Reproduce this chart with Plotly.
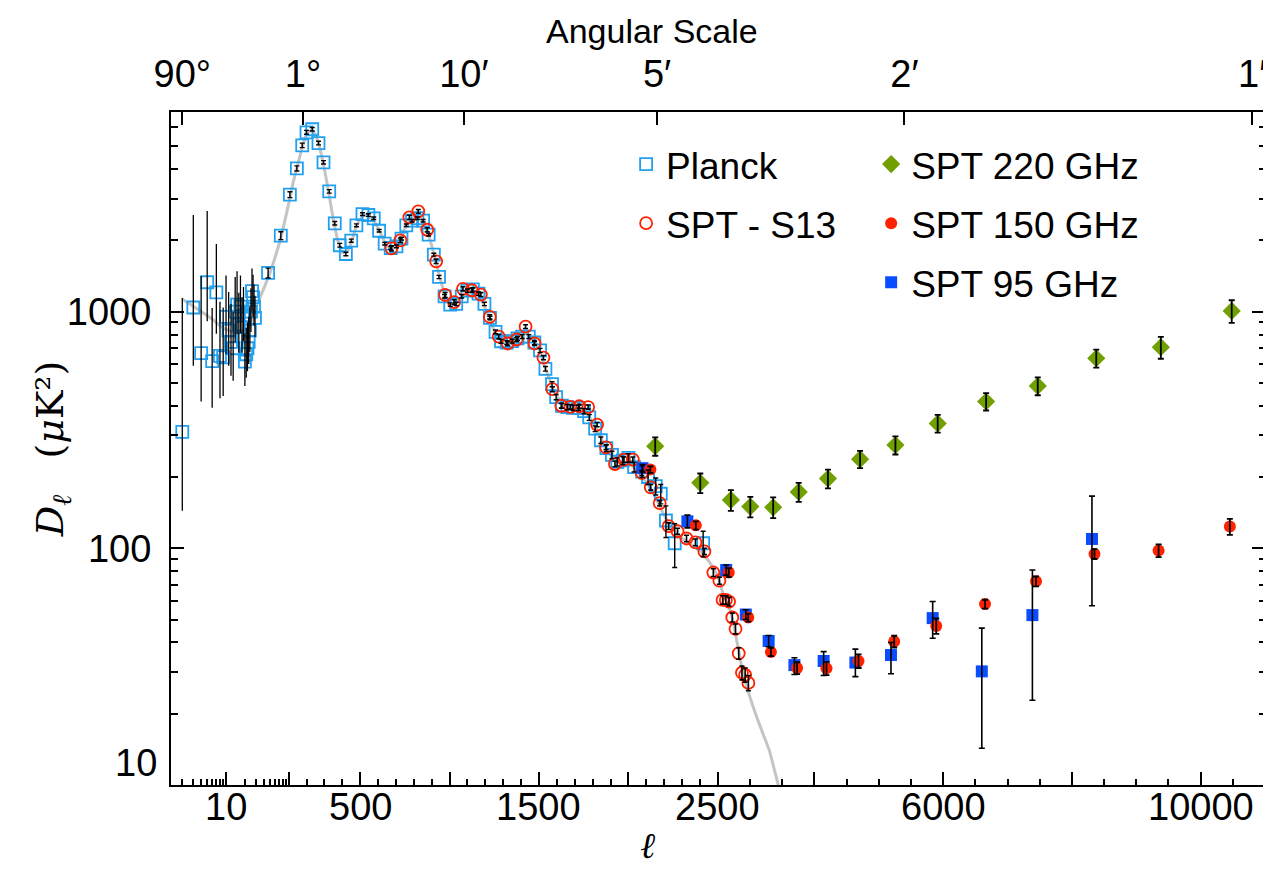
import numpy as np
import plotly.graph_objects as go

# ---------------- data ----------------
# Planck low-ell (unbinned)
lowl_ell = [2, 3, 4, 5, 6, 7, 8, 9, 10, 11, 12, 13, 14, 15, 16, 17, 18, 19, 20,
            21, 22, 23, 24, 25, 26, 27, 28, 29]
lowl_D = [310, 1040, 667, 1330, 618, 1205, 650, 640, 950, 830, 745, 700, 1000, 1070,
          880, 1050, 860, 960, 615, 660, 700, 745, 830, 1000, 1220, 1150, 1050, 940]
lowl_err_hi = [830, 1520, 745, 1330, 417, 725, 450, 400, 470, 380, 330, 300, 400, 410,
               320, 370, 290, 310, 190, 195, 200, 205, 220, 255, 300, 280, 250, 225]
lowl_err_lo = [166, 450, 250, 420, 226, 400, 220, 200, 290, 240, 210, 190, 260, 270,
               210, 240, 190, 210, 130, 135, 140, 145, 155, 180, 215, 200, 180, 160]

# Planck binned
planck_ell = [47, 75, 107, 146, 176, 200, 232, 267, 295, 327, 358, 386, 420, 450, 479,
              513, 546, 576, 606, 637, 671, 703, 731, 758, 790, 820, 852, 883, 912, 941,
              972, 1004, 1037, 1068, 1100, 1130, 1162, 1195, 1226, 1257, 1288, 1320, 1350,
              1380, 1406, 1443, 1474, 1506, 1536, 1573, 1596, 1628, 1659, 1690, 1721, 1752,
              1781, 1814, 1846, 1877, 1908, 1938, 1969, 2000, 2032, 2077, 2110, 2153, 2181,
              2210, 2259, 2418]
planck_D = [1456, 2094, 3119, 4026, 5035, 5717, 5890, 5150, 4270, 3220, 2360, 1906, 1750,
            1992, 2314, 2580, 2558, 2477, 2195, 1935, 1856, 1886, 2033, 2314, 2420, 2480,
            2420, 2112, 1739, 1400, 1160, 1070, 1077, 1160, 1225, 1240, 1190, 1077, 940,
            821, 749, 740, 750, 770, 784, 784, 740, 685, 573, 494, 435, 400, 395, 392, 392,
            380, 357, 320, 286, 265, 248, 232, 235, 241, 220, 211, 200, 183, 170, 131, 105,
            105]
planck_err = [70, 80, 90, 100, 110, 110, 100, 90, 70, 55, 40, 35, 30, 30, 32, 35, 33, 30,
              28, 25, 25, 25, 26, 28, 30, 30, 30, 28, 25, 22, 20, 18, 18, 19, 20, 20, 20,
              18, 16, 15, 14, 14, 14, 14, 15, 15, 15, 14, 13, 12, 11, 10, 10, 10, 10, 10,
              10, 9, 9, 9, 9, 9, 9, 10, 10, 12, 14, 15, 16, 20, 22, 13]

# SPT - S13 (Story et al.)
s13_ell = [675, 725, 775, 825, 875, 925, 975, 1025, 1075, 1125, 1175, 1225, 1275, 1325,
           1375, 1425, 1475, 1525, 1575, 1625, 1675, 1725, 1775, 1825, 1875, 1925, 1975,
           2025, 2075, 2125, 2175, 2225, 2275, 2325, 2375, 2425, 2475, 2525, 2575, 2625,
           2675, 2725, 2775, 2825, 2875, 2925, 2975]
s13_D = [1850, 2000, 2500, 2650, 2216, 1630, 1175, 1097, 1248, 1230, 1180, 950, 784, 733,
         762, 864, 733, 639, 470, 400, 396, 398, 395, 333, 267, 227, 237, 237, 208, 181,
         155, 124, 118, 110, 106, 97, 79, 73, 60.5, 60.5, 59.5, 51, 45.7, 36, 29.8, 29.2, 27]
s13_err = [45, 45, 50, 50, 45, 35, 28, 25, 25, 25, 22, 20, 17, 15, 15, 16, 14, 13, 11, 9,
           9, 8, 8, 7, 6, 6, 6, 6, 5, 5, 4, 4, 3.5, 3.5, 3.5, 3, 3, 2.5, 2.5, 2.5, 2.5,
           2.2, 2.2, 2, 2, 2, 2]

# SPT 220 GHz
spt220_ell = [2150, 2402, 2703, 3005, 3360, 3757, 4211, 4710, 5259, 5916, 6668, 7470,
              8379, 9382, 10483]
spt220_D = [270, 189, 160, 150, 149, 173, 197, 238, 273, 337, 417, 485, 635, 707, 1006]
spt220_err = [24, 18, 16, 15, 15, 16, 18, 20, 24, 29, 35, 42, 55, 75, 110]

# SPT 150 GHz
spt150_ell = [2123, 2377, 2670, 2973, 3325, 3732, 4188, 4686, 5240, 5893, 6651, 7443,
              8351, 9347, 10454]
spt150_D = [215, 125, 79, 51, 36.5, 31.2, 31.1, 33.4, 40.4, 47.0, 58.1, 72.5, 94.6,
            97.8, 123.5]
spt150_err = [7, 5, 3.5, 2, 1.5, 1.8, 2, 2.2, 2.3, 3.5, 2.5, 3.5, 4.5, 6, 9.5]

# SPT 95 GHz
spt95_ell = [2079, 2330, 2630, 2935, 3290, 3690, 4144, 4637, 5190, 5838, 6601, 7387, 8312]
spt95_D = [218, 130, 81, 52.5, 40.6, 32.1, 33.4, 32.9, 35.4, 50.7, 30.2, 52.2, 109.5]
spt95_err_hi = [8, 8, 4, 2.5, 2.2, 2.4, 3.2, 4.6, 4.6, 8.9, 15.8, 28.8, 56.5]
spt95_err_lo = [8, 8, 4, 2.5, 2.2, 2.8, 4.4, 4.2, 5.9, 9.0, 15.9, 29.4, 52.3]

# best-fit model curve (grey)
theory_ell = [2, 4, 6, 8, 10, 15, 20, 25, 30, 40, 50, 75, 100, 125, 150, 175, 200, 220,
              240, 260, 280, 300, 325, 350, 375, 400, 425, 450, 475, 500, 525, 550, 575,
              600, 625, 650, 675, 700, 725, 750, 775, 800, 825, 850, 875, 900, 925, 950,
              975, 1000, 1025, 1050, 1075, 1100, 1125, 1150, 1175, 1200, 1225, 1250, 1275,
              1300, 1325, 1350, 1375, 1400, 1425, 1450, 1475, 1500, 1525, 1550, 1575, 1600,
              1625, 1650, 1675, 1700, 1725, 1750, 1775, 1800, 1825, 1850, 1875, 1900, 1925,
              1950, 1975, 2000, 2025, 2050, 2100, 2150, 2200, 2250, 2300, 2350, 2400, 2450,
              2500, 2600, 2700, 2800, 2900, 3000, 3100, 3200, 3300, 3400, 3460]
theory_D = [1130, 1000, 930, 870, 840, 810, 830, 900, 1040, 1250, 1450, 2050, 2850, 3500,
            4150, 4900, 5600, 5800, 5750, 5350, 4700, 4000, 3150, 2450, 2000, 1780, 1780,
            1950, 2250, 2450, 2550, 2530, 2420, 2250, 2050, 1900, 1850, 1900, 2050, 2250,
            2420, 2500, 2500, 2400, 2200, 1900, 1600, 1350, 1180, 1090, 1080, 1120, 1180,
            1220, 1230, 1200, 1130, 1030, 920, 830, 770, 740, 735, 750, 780, 800, 805, 790,
            750, 690, 610, 540, 480, 440, 415, 400, 395, 393, 390, 380, 365, 340, 315, 290,
            265, 248, 238, 232, 230, 228, 222, 212, 190, 165, 138, 120, 110, 104, 98, 88,
            76, 62, 54, 40, 29, 23.5, 19.5, 16.5, 14, 11, 9.5]

# axis ticks
bottom_major_ell = [10, 100, 500, 1000, 1500, 2000, 2500, 4000, 6000, 8000, 10000]
bottom_label_ell = [10, 500, 1500, 2500, 6000, 10000]
bottom_label_txt = ['10', '500', '1500', '2500', '6000', '10000']
bottom_minor_ell = ([2, 3, 4, 5, 6, 7, 8, 9, 20, 30, 40, 50, 60, 70, 80, 90,
                     200, 300, 400, 600, 700, 800, 900, 1100, 1200, 1300, 1400,
                     1600, 1700, 1800, 1900, 2100, 2200, 2300, 2400,
                     3000, 3500, 4500, 5000, 5500, 6500, 7000, 7500,
                     8500, 9000, 9500, 10500])
top_ell = [2, 180, 1080, 2160, 5400, 10800]
top_txt = ['90°', '1°', '10′', '5′', '2′', '1′']
y_major = [100, 1000]
y_major_txt = ['100', '1000']
y_minor = [20, 30, 40, 50, 60, 70, 80, 90, 200, 300, 400, 500, 600, 700, 800, 900,
           2000, 3000, 4000, 5000, 6000]


# ---------------- hybrid ell scale: log below 100, linear to 2500, compressed linear above
def xs(ell):
    ell = np.asarray(ell, dtype=float)
    return np.where(ell < 100, 100 + 350 * np.log10(ell / 100.0),
                    np.where(ell <= 2500, ell, 2500 + (ell - 2500) * 0.36))


FONT = 'Liberation Sans, Arial, Helvetica, sans-serif'
PLANCK_C = '#22a0f0'
RED = '#ff2200'
BLUE = '#0a4cff'
GREEN = '#6fa000'

fig = go.Figure()

# model curve
fig.add_trace(go.Scatter(x=xs(theory_ell), y=theory_D, mode='lines',
                         line=dict(color='#c4c4c4', width=3, shape='spline', smoothing=0.6),
                         showlegend=False, hoverinfo='skip'))

# markers
fig.add_trace(go.Scatter(x=xs(lowl_ell + planck_ell), y=lowl_D + planck_D, mode='markers',
                         name='Planck', legend='legend', legendgroup='a',
                         marker=dict(symbol='square-open', size=12, color=PLANCK_C,
                                     line=dict(width=1.8, color=PLANCK_C))))
fig.add_trace(go.Scatter(x=xs(s13_ell), y=s13_D, mode='markers',
                         name='SPT - S13', legend='legend', legendgroup='b',
                         marker=dict(symbol='circle-open', size=12, color=RED,
                                     line=dict(width=1.8, color=RED))))
fig.add_trace(go.Scatter(x=xs(spt220_ell), y=spt220_D, mode='markers',
                         name='SPT 220 GHz', legend='legend2', legendgroup='c',
                         legendrank=1,
                         marker=dict(symbol='diamond', size=14, color=GREEN,
                                     line=dict(width=0))))
fig.add_trace(go.Scatter(x=xs(spt95_ell), y=spt95_D, mode='markers',
                         name='SPT 95 GHz', legend='legend2', legendgroup='e',
                         legendrank=3,
                         marker=dict(symbol='square', size=12, color=BLUE,
                                     line=dict(width=0))))
fig.add_trace(go.Scatter(x=xs(spt150_ell), y=spt150_D, mode='markers',
                         name='SPT 150 GHz', legend='legend2', legendgroup='d',
                         legendrank=2,
                         marker=dict(symbol='circle', size=12, color=RED,
                                     line=dict(width=0))))


def ebar(x, y, hi, lo, width, thick=1.4):
    return go.Scatter(x=xs(x), y=y, mode='markers', showlegend=False, hoverinfo='skip',
                      marker=dict(size=1, color='rgba(0,0,0,0)'),
                      error_y=dict(type='data', symmetric=False, array=hi, arrayminus=lo,
                                   color='black', thickness=thick, width=width))


# error bars drawn on top of the symbols
fig.add_trace(ebar(lowl_ell, lowl_D, lowl_err_hi, lowl_err_lo, 0, 1.3))
fig.add_trace(ebar(planck_ell, planck_D, planck_err, planck_err, 2.5, 1.4))
fig.add_trace(ebar(s13_ell, s13_D, s13_err, s13_err, 2.5, 1.6))
fig.add_trace(ebar(spt220_ell, spt220_D, spt220_err, spt220_err, 3, 1.8))
fig.add_trace(ebar(spt95_ell, spt95_D, spt95_err_hi, spt95_err_lo, 3, 1.6))
fig.add_trace(ebar(spt150_ell, spt150_D, spt150_err, spt150_err, 3, 1.8))

xrange = [float(xs(1.32)), float(xs(11000))]

fig.update_layout(
    width=1271, height=869,
    margin=dict(l=163, r=14, t=104, b=92),
    plot_bgcolor='white', paper_bgcolor='white',
    font=dict(family=FONT, size=38, color='black'),
    xaxis=dict(range=xrange, showgrid=False, zeroline=False,
               showline=True, linecolor='black', linewidth=2, mirror=False,
               tickmode='array', tickvals=xs(bottom_major_ell), showticklabels=False,
               ticks='inside', ticklen=13, tickwidth=1.8, tickcolor='black',
               minor=dict(tickmode='array', tickvals=xs(bottom_minor_ell), ticks='inside',
                          ticklen=6.5, tickwidth=1.5, tickcolor='black')),
    xaxis2=dict(range=xrange, overlaying='x', side='top', anchor='y', showgrid=False,
                zeroline=False, showline=True, linecolor='black', linewidth=2,
                tickmode='array', tickvals=xs(top_ell), ticktext=top_txt,
                ticks='inside', ticklen=13, tickwidth=1.8, tickcolor='black',
                ticklabelstandoff=8, tickfont=dict(size=38, family=FONT)),
    yaxis=dict(type='log', range=[1, 3.843], showgrid=False, zeroline=False,
               showline=True, linecolor='black', linewidth=2, mirror='ticks',
               tickmode='array', tickvals=y_major, ticktext=y_major_txt,
               ticks='inside', ticklen=13, tickwidth=1.8, tickcolor='black',
               ticklabelstandoff=10, tickfont=dict(size=38, family=FONT),
               minor=dict(tickmode='array', tickvals=y_minor, ticks='inside',
                          ticklen=6.5, tickwidth=1.5, tickcolor='black')),
    legend=dict(x=0.416, y=0.968, xanchor='left', yanchor='top',
                bgcolor='rgba(0,0,0,0)', borderwidth=0, tracegroupgap=8,
                font=dict(size=37, family=FONT, color='black')),
    legend2=dict(x=0.64, y=0.968, xanchor='left', yanchor='top',
                 bgcolor='rgba(0,0,0,0)', borderwidth=0, tracegroupgap=8,
                 font=dict(size=37, family=FONT, color='black')),
    showlegend=True,
)

# dummy trace to activate xaxis2
fig.add_trace(go.Scatter(x=[xrange[0]], y=[10], xaxis='x2', mode='markers',
                         marker=dict(size=1, color='rgba(0,0,0,0)'), showlegend=False,
                         hoverinfo='skip'))

# bottom tick labels
for v, t in zip(bottom_label_ell, bottom_label_txt):
    fig.add_annotation(text=t, xref='x', yref='paper', x=float(xs(v)), y=0,
                       xanchor='center', yanchor='middle', yshift=-22, showarrow=False,
                       font=dict(size=38, family=FONT))

fig.add_annotation(text='10', xref='paper', yref='y', x=0, y=1, xanchor='right',
                   yanchor='middle', xshift=-12, yshift=22, showarrow=False,
                   font=dict(size=38, family=FONT))
fig.add_annotation(text='Angular Scale', xref='paper', yref='paper', x=0.44, y=1.121,
                   xanchor='center', yanchor='middle', showarrow=False,
                   font=dict(size=34, family=FONT))
fig.add_annotation(text='<i>ℓ</i>', xref='paper', yref='paper', x=0.436, y=-0.0906,
                   xanchor='center', yanchor='middle', showarrow=False,
                   font=dict(size=36, family='DejaVu Serif, serif'))
fig.add_annotation(text='<i>D</i><sub><i>ℓ</i></sub>   (<i>μ</i>K²)', xref='paper',
                   yref='paper', x=-0.108, y=0.5, xanchor='center', yanchor='middle',
                   textangle=-90, showarrow=False,
                   font=dict(size=38, family='DejaVu Serif, serif'))

fig.write_html('out.html')
